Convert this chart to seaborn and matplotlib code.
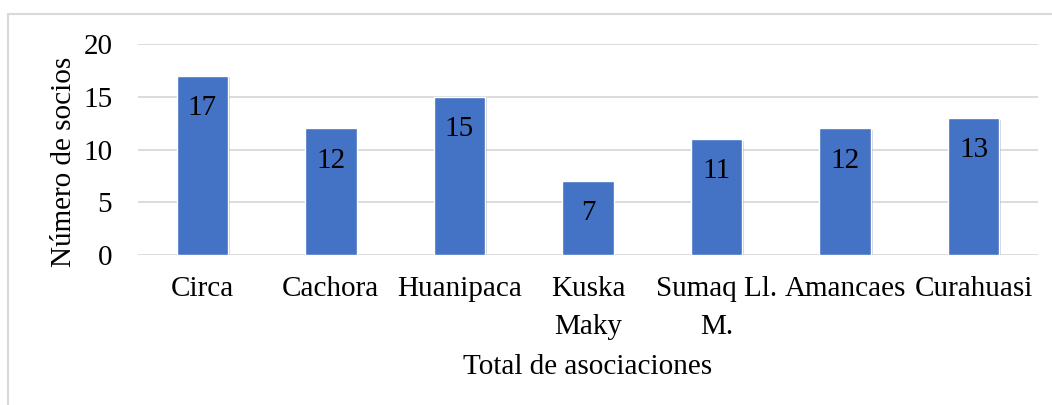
import pandas as pd
import seaborn as sns
import matplotlib.pyplot as plt
import matplotlib.patheffects as pe
from matplotlib.patches import Rectangle

asociaciones = ["Circa", "Cachora", "Huanipaca", "Kuska\nMaky", "Sumaq Ll.\nM.", "Amancaes", "Curahuasi"]
socios = [17, 12, 15, 7, 11, 12, 13]

df = pd.DataFrame({"asociacion": asociaciones, "socios": socios})

sns.set_style("white")
plt.rcParams['font.family'] = ['Liberation Serif', 'DejaVu Serif']
plt.rcParams.update({"text.color": "black", "axes.labelcolor": "black",
                     "xtick.color": "black", "ytick.color": "black"})

fig = plt.figure(figsize=(10.52, 4.05), dpi=100)
ax = fig.add_axes([138/1052, 1 - 255/405, 900/1052, 211/405])

sns.barplot(data=df, x="asociacion", y="socios", color="#4472C4", width=0.4,
            saturation=1, ax=ax, zorder=3)
for bar in ax.patches:
    bar.set_path_effects([pe.SimplePatchShadow(offset=(1.2, -1.2), shadow_rgbFace="gray", alpha=0.35),
                          pe.Normal()])

ax.set_ylim(0, 20)
ax.set_yticks([0, 5, 10, 15, 20])
ax.grid(axis="y", color="#d9d9d9", linewidth=1.3, zorder=0)
for s in ax.spines.values():
    s.set_visible(False)
ax.tick_params(axis="both", length=0, labelsize=21)
ax.tick_params(axis="y", pad=18.5)
ax.tick_params(axis="x", pad=15)
for t in ax.get_xticklabels():
    t.set_linespacing(1.6)

# value labels inside the bars
for i, v in enumerate(socios):
    ax.text(i, v - 3.72, str(v), ha="center", va="baseline", fontsize=21, zorder=4)

ax.set_xlabel("Total de asociaciones", fontsize=21, labelpad=10)
ax.set_ylabel("Número de socios", fontsize=21)
ax.yaxis.set_label_coords(-0.068, 0.443)

# chart frame
fig.patches.append(Rectangle((8/1052, -0.1), 1.2, 1 - 14/405 + 0.1, transform=fig.transFigure,
                             fill=False, edgecolor="#d9d9d9", linewidth=1.5))

fig.savefig("out.png", dpi=100)
